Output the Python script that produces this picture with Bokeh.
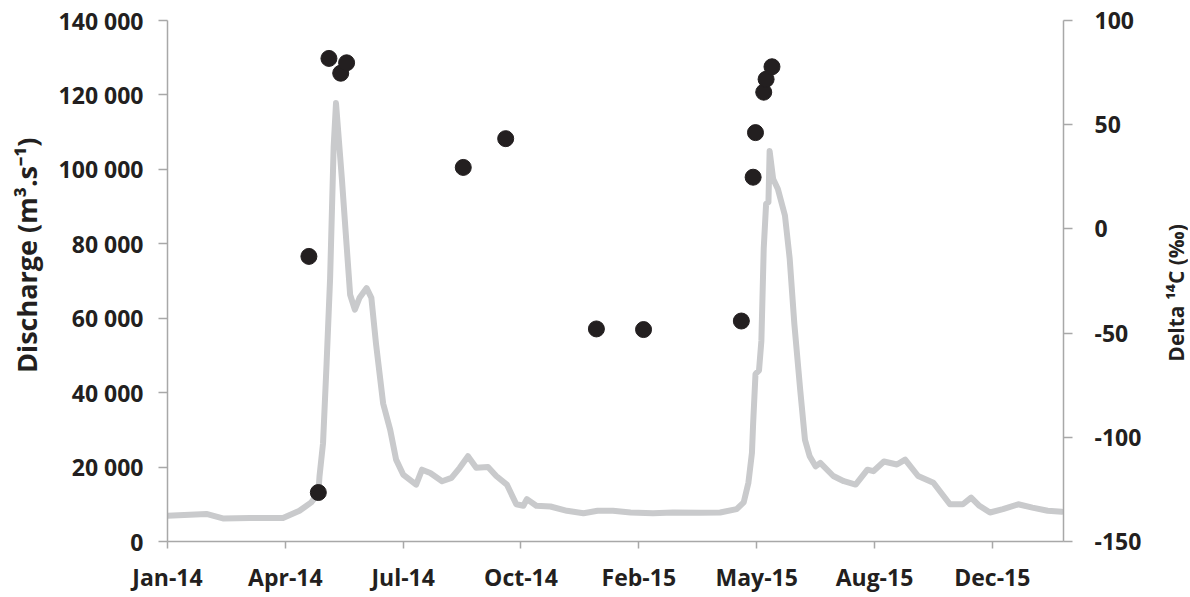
import math
import datetime as dt
import pandas as pd
from bokeh.plotting import figure
from bokeh.layouts import row
from bokeh.core.properties import value
from bokeh.models import (Range1d, LinearAxis, FixedTicker, DatetimeTickFormatter,
                          ColumnDataSource)
from bokeh.embed import file_html
from bokeh.resources import INLINE

# ---------------- data ----------------
discharge_dates = [
    "2014-01-01", "2014-02-03", "2014-02-17", "2014-03-12", "2014-04-09", "2014-04-23",
    "2014-05-03", "2014-05-09", "2014-05-10", "2014-05-13", "2014-05-16", "2014-05-19",
    "2014-05-22", "2014-05-24", "2014-05-29", "2014-06-02", "2014-06-05", "2014-06-09",
    "2014-06-13", "2014-06-19", "2014-06-23", "2014-06-27", "2014-07-03", "2014-07-09",
    "2014-07-14", "2014-07-20", "2014-07-31", "2014-08-05", "2014-08-12", "2014-08-22",
    "2014-08-30", "2014-09-06", "2014-09-13", "2014-09-20", "2014-09-30", "2014-10-07",
    "2014-10-16", "2014-10-24", "2014-10-30", "2014-11-02", "2014-11-10", "2014-11-22",
    "2014-12-06", "2014-12-20", "2015-01-01", "2015-01-14", "2015-01-29", "2015-02-17",
    "2015-03-06", "2015-03-29", "2015-04-15", "2015-04-29", "2015-05-05", "2015-05-09",
    "2015-05-12", "2015-05-13", "2015-05-15", "2015-05-18", "2015-05-20", "2015-05-22",
    "2015-05-24", "2015-05-26", "2015-05-27", "2015-05-30", "2015-06-03", "2015-06-09",
    "2015-06-13", "2015-06-17", "2015-06-22", "2015-06-26", "2015-06-30", "2015-07-05",
    "2015-07-09", "2015-07-20", "2015-07-29", "2015-08-08", "2015-08-18", "2015-08-23",
    "2015-09-01", "2015-09-12", "2015-09-19", "2015-09-30", "2015-10-13", "2015-10-27",
    "2015-11-07", "2015-11-14", "2015-11-21", "2015-11-30", "2015-12-11", "2015-12-24",
    "2016-01-05", "2016-01-18", "2016-01-30",
]
discharge_values = [
    6900, 7400, 6200, 6300, 6300, 8250,
    10500, 13000, 17500, 26400, 47700, 70800,
    106000, 117800, 97400, 79600, 66300, 62300,
    65500, 68100, 65500, 53000, 37100, 30000,
    22000, 18000, 15300, 19300, 18400, 16200,
    17100, 19800, 22900, 19800, 20000, 17600,
    15300, 10000, 9600, 11400, 9600, 9400,
    8250, 7600, 8250, 8250, 7800, 7600,
    7800, 7700, 7800, 8700, 10500, 15800,
    23800, 31700, 45000, 46000, 53900, 78800,
    90700, 91200, 104900, 97400, 94700, 87600,
    76100, 58400, 40600, 27300, 22900, 20200,
    21100, 17600, 16200, 15300, 19300, 18900,
    21500, 20700, 22000, 17600, 15800, 10000,
    10000, 11800, 9600, 7800, 8700, 10000,
    9100, 8250, 8000,
]

delta_dates = [
    "2014-05-01", "2014-05-09", "2014-05-18", "2014-05-28", "2014-06-02",
    "2014-09-09", "2014-10-15", "2014-12-31", "2015-02-09", "2015-05-03",
    "2015-05-13", "2015-05-15", "2015-05-22", "2015-05-24", "2015-05-29",
]
delta_values = [
    -13.2, -126.5, 81.8, 74.7, 79.7,
    29.5, 43.3, -48.0, -48.3, -44.2,
    24.8, 46.2, 65.6, 71.8, 77.8,
]

x_tick_dates = ["2014-01-01", "2014-04-11", "2014-07-20", "2014-10-28",
                "2015-02-05", "2015-05-16", "2015-08-24", "2015-12-02"]
left_ticks = [0, 20000, 40000, 60000, 80000, 100000, 120000, 140000]
left_tick_labels = ["0", "20 000", "40 000", "60 000", "80 000", "100 000", "120 000", "140 000"]
right_ticks = [-150, -100, -50, 0, 50, 100]
right_tick_labels = ["-150", "-100", "-50", "0", "50", "100"]
left_title = "Discharge (m³.s⁻¹)"
right_title = "Delta ¹⁴C (‰)"

# ---------------- styling / layout ----------------
FONT = "Open Sans"
TXT = "#231f20"
AX = "#a8a8a8"
H = 595
TOP, BOTTOM = 20, H - 546
LW, PW, RW = 44, 1106, 38   # left title strip, main plot, right title strip

x_start = dt.datetime(2014, 1, 1)
x_end = x_start + dt.timedelta(days=760.4)

p = figure(width=PW, height=H, output_backend="svg", toolbar_location=None,
           x_axis_type="datetime",
           x_range=Range1d(x_start, x_end), y_range=Range1d(0, 140000),
           min_border_left=167 - LW, min_border_right=LW + PW - 1063,
           min_border_top=TOP, min_border_bottom=BOTTOM)
p.outline_line_color = None
p.xgrid.visible = False
p.ygrid.visible = False
p.background_fill_color = "white"
p.border_fill_color = "white"

p.extra_y_ranges = {"delta": Range1d(-150, 100)}

line_src = ColumnDataSource(dict(x=pd.to_datetime(discharge_dates), y=discharge_values))
pt_src = ColumnDataSource(dict(x=pd.to_datetime(delta_dates), y=delta_values))

p.line("x", "y", source=line_src, line_color="#c9cacc", line_width=6,
       line_join="round", line_cap="round")
p.scatter("x", "y", source=pt_src, y_range_name="delta", size=16,
          fill_color="#231f20", line_color="#231f20")

# x axis
xa = p.xaxis[0]
xa.ticker = FixedTicker(ticks=[pd.Timestamp(d).value / 1e6 for d in x_tick_dates])
fmt = "%b-%y"
xa.formatter = DatetimeTickFormatter(milliseconds=fmt, seconds=fmt, minsec=fmt, minutes=fmt,
                                     hourmin=fmt, hours=fmt, days=fmt, months=fmt, years=fmt)
xa.minor_tick_line_color = None
xa.major_tick_out = 7
xa.major_tick_in = 0
xa.major_label_standoff = 12

# left axis
ya = p.yaxis[0]
ya.ticker = FixedTicker(ticks=left_ticks)
ya.major_label_overrides = {t: l for t, l in zip(left_ticks, left_tick_labels)}
ya.minor_tick_line_color = None
ya.major_tick_out = 9
ya.major_tick_in = 0
ya.major_label_standoff = 15

# right axis
ra = LinearAxis(y_range_name="delta", ticker=FixedTicker(ticks=right_ticks))
ra.major_label_overrides = {t: l for t, l in zip(right_ticks, right_tick_labels)}
ra.minor_tick_line_color = None
ra.major_tick_out = 9
ra.major_tick_in = 0
ra.major_label_standoff = 22
p.add_layout(ra, "right")

for a in (xa, ya, ra):
    a.axis_line_color = AX
    a.axis_line_width = 1.5
    a.major_tick_line_color = AX
    a.major_tick_line_width = 1.5
    a.major_label_text_font = FONT
    a.major_label_text_font_style = "bold"
    a.major_label_text_font_size = "23px"
    a.major_label_text_color = TXT


# axis titles in narrow strips (rotated, reading bottom-to-top)
def title_strip(width, yr, xpos, ypos, text, size):
    f = figure(width=width, height=H, output_backend="svg", toolbar_location=None,
               x_range=Range1d(0, 1), y_range=yr, x_axis_location=None, y_axis_location=None,
               min_border_left=0, min_border_right=0, min_border_top=TOP,
               min_border_bottom=BOTTOM)
    f.outline_line_color = None
    f.xgrid.visible = False
    f.ygrid.visible = False
    f.text(x=[xpos], y=[ypos], text=[text], angle=math.pi / 2, text_align="center",
           text_baseline="middle", text_font=value(FONT), text_font_style="bold",
           text_font_size=size, text_color=TXT)
    return f


lfig = title_strip(LW, Range1d(0, 140000), 26 / LW, 76900, left_title, "27px")
rfig = title_strip(RW, Range1d(-150, 100), (1175 - LW - PW) / RW, -30.7, right_title, "21px")

layout = row(lfig, p, rfig, spacing=0)
open("out.html", "w").write(file_html(layout, INLINE))
